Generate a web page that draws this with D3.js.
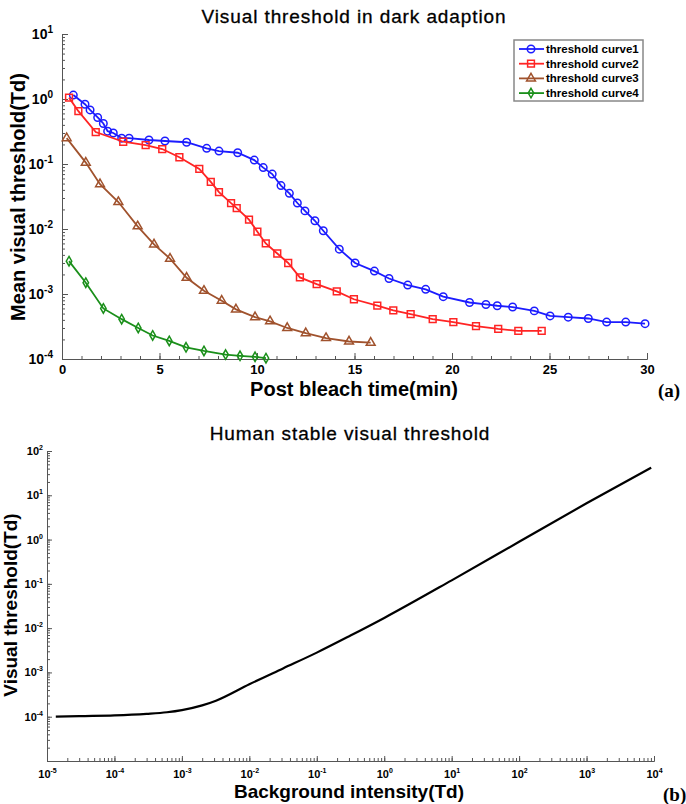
<!DOCTYPE html>
<html>
<head>
<meta charset="utf-8">
<style>
    body { margin: 0; background: #fff; }
    svg text { font-family: "Liberation Sans", Arial, sans-serif; }
</style>
</head>
<body>
<script src="https://d3js.org/d3.v7.min.js"></script>
<script type="text/javascript">
    // (a) dark adaption curves: time in min, threshold in Td
    var curve1T = [0.58, 1.18, 1.44, 1.83, 2.12, 2.34, 2.63, 3.06, 3.44, 4.46, 5.28, 6.39, 7.42, 8.05, 9.01, 9.86, 10.32, 10.78,
        11.23, 11.66, 12.07, 12.46, 12.97, 13.4, 14.22, 15.03, 16.02, 16.77, 17.73, 18.65, 19.55, 20.9, 21.74, 22.32, 23.11,
        24.22, 25.03, 25.96, 26.99, 27.93, 28.91, 29.9];
    var curve1V = [1.15, 0.83, 0.68, 0.52, 0.42, 0.32, 0.30, 0.25, 0.25, 0.234, 0.226, 0.216, 0.174, 0.158, 0.149, 0.115, 0.088, 0.070,
        0.0465, 0.0354, 0.0251, 0.019, 0.0134, 0.0094, 0.0049, 0.0030, 0.00225, 0.00173, 0.00137, 0.00118, 0.00091, 0.00074, 0.00069,
        0.00066, 0.00063, 0.00055, 0.00046, 0.00044, 0.00042, 0.00037, 0.00037, 0.00035];
    var curve2T = [0.36, 0.84, 1.73, 3.14, 4.29, 5.14, 6.02, 7.04, 7.63, 8.05, 8.67, 8.96, 9.59, 10.02, 10.45, 11.04, 11.6, 12.2,
        13.06, 14.09, 14.97, 16.17, 16.99, 17.88, 19.01, 20.07, 21.23, 22.37, 23.4, 24.6];
    var curve2V = [1.05, 0.65, 0.31, 0.22, 0.195, 0.17, 0.127, 0.084, 0.053, 0.037, 0.025, 0.021, 0.0139, 0.0091, 0.0060, 0.0042,
        0.0030, 0.0018, 0.00142, 0.0011, 0.00083, 0.00066, 0.00056, 0.00049, 0.00041, 0.00037, 0.00032, 0.00029, 0.00027, 0.00027];
    var curve3T = [0.24, 1.22, 1.95, 2.89, 3.88, 4.72, 5.54, 6.39, 7.28, 8.19, 8.92, 9.9, 10.67, 11.55, 12.5, 13.54, 14.72, 15.83];
    var curve3V = [0.25, 0.105, 0.049, 0.026, 0.011, 0.0058, 0.0035, 0.00178, 0.00112, 0.00079, 0.00058, 0.00044, 0.00038,
        0.0003, 0.00025, 0.00021, 0.000186, 0.000178];
    var curve4T = [0.36, 1.22, 2.12, 3.06, 3.91, 4.65, 5.5, 6.36, 7.28, 8.39, 9.13, 9.9, 10.46];
    var curve4V = [0.0032, 0.00149, 0.0006, 0.00041, 0.0003, 0.00023, 0.00019, 0.000151, 0.000133, 0.000117, 0.000112,
        0.000108, 0.000103];
    var curveNames = ["threshold curve1", "threshold curve2", "threshold curve3", "threshold curve4"];
    var xTicksA = [0, 5, 10, 15, 20, 25, 30];

    // (b) stable threshold vs background intensity, both in Td
    var bgIntensity = [1.35e-5, 3e-5, 1e-4, 3e-4, 6e-4, 1e-3, 2e-3, 3.2e-3, 1e-2, 3.16e-2, 1e-1, 3.16e-1, 1, 10, 100, 1000, 9100];
    var stableThreshold = [1.0e-4, 1.03e-4, 1.07e-4, 1.16e-4, 1.26e-4, 1.41e-4, 1.8e-4, 2.3e-4, 5.4e-4, 1.23e-3, 2.8e-3, 6.8e-3,
        1.7e-2, 0.12, 0.89, 6.6, 42];

    var W = 686, H = 804;
    var svg = d3.select('body').append('svg').attr('width', W).attr('height', H);

    // superscript labels 10^n
    function powLabels(g, big, small, rise) {
        g.selectAll('.tick text').each(function (d) {
            var e = Math.round(Math.log10(d));
            var t = d3.select(this).text('10')
                .attr('font-size', big).attr('font-weight', 'bold').attr('fill', '#000');
            t.append('tspan').attr('dy', -rise).attr('font-size', small).text(e);
        });
    }
    function styleAxis(g) {
        g.attr('font-family', null);
        g.selectAll('path, line').attr('stroke', '#555');
    }

    // ---------- chart (a) ----------
    var xA = d3.scaleLinear().domain([0, 30]).range([62, 647]);
    var yA = d3.scaleLog().domain([1e-4, 10]).range([359, 34]);

    var gxm = svg.append('g').attr('transform', 'translate(0,359)')
        .call(d3.axisBottom(xA).tickValues(d3.range(0, 31)).tickSize(-3).tickSizeOuter(0).tickFormat(''));
    var gx = svg.append('g').attr('transform', 'translate(0,359)')
        .call(d3.axisBottom(xA).tickValues(xTicksA).tickSize(-6).tickSizeOuter(0).tickPadding(6));
    gx.selectAll('.tick text').attr('font-size', 13).attr('font-weight', 'bold').attr('fill', '#000');
    var gym = svg.append('g').attr('transform', 'translate(62,0)')
        .call(d3.axisLeft(yA).tickValues(yA.ticks(10)).tickSize(-3).tickSizeOuter(0).tickFormat(''));
    var gy = svg.append('g').attr('transform', 'translate(62,0)')
        .call(d3.axisLeft(yA).tickValues([1e-4, 1e-3, 1e-2, 1e-1, 1, 10]).tickSize(-6).tickSizeOuter(0).tickPadding(9));
    powLabels(gy, 14, 10, 6);
    [gxm, gx, gym, gy].forEach(styleAxis);

    var seriesA = [
        { t: curve1T, v: curve1V, color: '#1c1cff', sym: d3.symbolCircle, size: 44 },
        { t: curve2T, v: curve2V, color: '#ff2424', sym: d3.symbolSquare, size: 46 },
        { t: curve3T, v: curve3V, color: '#a0522d', sym: d3.symbolTriangle, size: 34 },
        { t: curve4T, v: curve4V, color: '#1a8f1a', sym: d3.symbolDiamond, size: 26 }
    ];

    var line = d3.line();
    seriesA.forEach(function (s, k) {
        var pts = s.t.map(function (t, i) { return [xA(t), yA(s.v[i])]; });
        svg.append('path').attr('d', line(pts)).attr('fill', 'none')
            .attr('stroke', s.color).attr('stroke-width', 1.8);
        svg.append('g').selectAll('path').data(pts).enter().append('path')
            .attr('transform', function (d) { return 'translate(' + d[0] + ',' + d[1] + ')'; })
            .attr('d', d3.symbol().type(s.sym).size(s.size))
            .attr('fill', 'none').attr('stroke', s.color).attr('stroke-width', 1.5);
    });

    // legend
    var lg = svg.append('g');
    lg.append('rect').attr('x', 514).attr('y', 40).attr('width', 129).attr('height', 61)
        .attr('fill', '#fff').attr('stroke', '#888').attr('stroke-width', 1.5);
    seriesA.forEach(function (s, k) {
        var y = 49 + k * 14.7;
        lg.append('line').attr('x1', 519).attr('x2', 544).attr('y1', y).attr('y2', y)
            .attr('stroke', s.color).attr('stroke-width', 1.8);
        lg.append('path').attr('transform', 'translate(531,' + y + ')')
            .attr('d', d3.symbol().type(s.sym).size(s.size))
            .attr('fill', 'none').attr('stroke', s.color).attr('stroke-width', 1.5);
        lg.append('text').attr('x', 546).attr('y', y + 4).attr('font-size', 11.5)
            .attr('font-weight', 'bold').text(curveNames[k]);
    });

    svg.append('text').attr('x', 354).attr('y', 23).attr('text-anchor', 'middle')
        .attr('font-size', 19).attr('letter-spacing', 0.9).attr('stroke', '#000').attr('stroke-width', 0.3)
        .text('Visual threshold in dark adaption');
    svg.append('text').attr('transform', 'translate(25,197) rotate(-90)').attr('text-anchor', 'middle')
        .attr('font-size', 20).attr('font-weight', 'bold').text('Mean visual threshold(Td)');
    svg.append('text').attr('x', 354).attr('y', 396).attr('text-anchor', 'middle')
        .attr('font-size', 20).attr('font-weight', 'bold').text('Post bleach time(min)');
    svg.append('text').attr('x', 658).attr('y', 397).attr('font-size', 19).attr('font-weight', 'bold')
        .style('font-family', '"Liberation Serif", "Times New Roman", serif').text('(a)');

    // ---------- chart (b) ----------
    var xB = d3.scaleLog().domain([1e-5, 1e4]).range([47, 654]);
    var yB = d3.scaleLog().domain([1e-5, 1e2]).range([761, 451]);

    var bxm = svg.append('g').attr('transform', 'translate(0,761)')
        .call(d3.axisBottom(xB).tickValues(xB.ticks(10)).tickSize(-3).tickSizeOuter(0).tickFormat(''));
    var bx = svg.append('g').attr('transform', 'translate(0,761)')
        .call(d3.axisBottom(xB).tickValues(d3.range(-5, 5).map(function (e) { return Math.pow(10, e); }))
            .tickSize(-5).tickSizeOuter(0).tickPadding(9));
    powLabels(bx, 11, 7, 5);
    var bym = svg.append('g').attr('transform', 'translate(47,0)')
        .call(d3.axisLeft(yB).tickValues(yB.ticks(10)).tickSize(-3).tickSizeOuter(0).tickFormat(''));
    var by = svg.append('g').attr('transform', 'translate(47,0)')
        .call(d3.axisLeft(yB).tickValues(d3.range(-4, 3).map(function (e) { return Math.pow(10, e); }))
            .tickSize(-5).tickSizeOuter(0).tickPadding(4));
    powLabels(by, 11, 7, 5);
    [bxm, bx, bym, by].forEach(styleAxis);

    var ptsB = bgIntensity.map(function (b, i) { return [xB(b), yB(stableThreshold[i])]; });
    svg.append('path').attr('d', d3.line().curve(d3.curveMonotoneX)(ptsB)).attr('fill', 'none')
        .attr('stroke', '#000').attr('stroke-width', 2.2);

    svg.append('text').attr('x', 350).attr('y', 440).attr('text-anchor', 'middle')
        .attr('font-size', 19).attr('letter-spacing', 0.9).attr('stroke', '#000').attr('stroke-width', 0.3)
        .text('Human stable visual threshold');
    svg.append('text').attr('transform', 'translate(17,605) rotate(-90)').attr('text-anchor', 'middle')
        .attr('font-size', 19).attr('font-weight', 'bold').text('Visual threshold(Td)');
    svg.append('text').attr('x', 349).attr('y', 798).attr('text-anchor', 'middle')
        .attr('font-size', 19).attr('font-weight', 'bold').text('Background intensity(Td)');
    svg.append('text').attr('x', 663).attr('y', 801).attr('font-size', 19).attr('font-weight', 'bold')
        .style('font-family', '"Liberation Serif", "Times New Roman", serif').text('(b)');
</script>
</body>
</html>
